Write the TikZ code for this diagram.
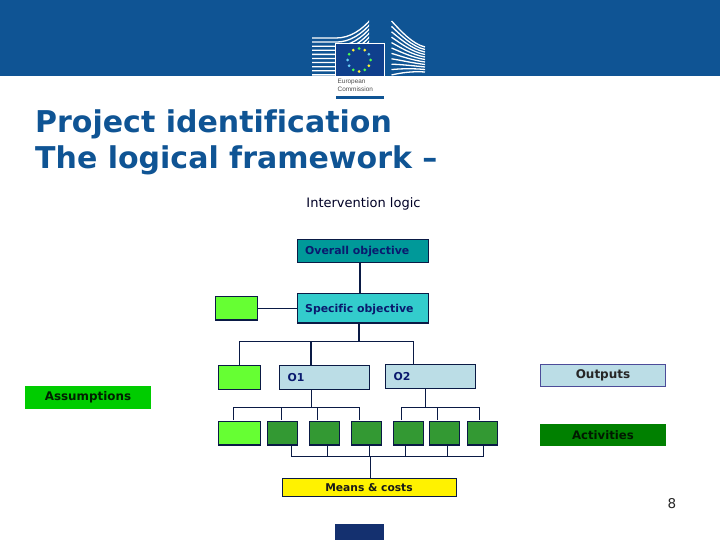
\documentclass[tikz,border=0pt]{standalone}
\usepackage{fontspec}
\setmainfont[Ligatures=NoCommon]{DejaVu Sans}
\newfontfamily\liberation{Liberation Sans}
\usetikzlibrary{calc}
\definecolor{ecblue}{HTML}{0F5494}
\definecolor{boxline}{HTML}{0A1A45}
\definecolor{boxtext}{HTML}{0A1A6E}
\definecolor{tealbox}{HTML}{009999}
\definecolor{cyanbox}{HTML}{33CCCC}
\definecolor{limebox}{HTML}{66FF33}
\definecolor{palebox}{HTML}{BBDDE6}
\definecolor{darkbox}{HTML}{339933}
\definecolor{barblue}{HTML}{14306F}
\definecolor{flagblue}{HTML}{0F3F8C}
\definecolor{assumefill}{HTML}{00CC00}
\definecolor{activityfill}{HTML}{008000}
\tikzset{
  x=1pt,y=-1pt,
  flowbox/.style={draw=boxline,line width=1.1pt,inner sep=0pt,outer sep=0pt,anchor=north west},
  objlabel/.style={font=\bfseries\fontsize{10.9}{12}\selectfont,text=boxtext,anchor=west,inner sep=0pt},
  legendbox/.style={inner sep=0pt,outer sep=0pt,anchor=north west},
  legendtext/.style={anchor=center,inner sep=0pt},
  link/.style={draw=boxline,line width=1.1pt},
  titletext/.style={font=\bfseries\fontsize{30}{36}\selectfont,text=ecblue,anchor=west,inner sep=0pt},
  stripe/.style={draw=white,line width=1.3pt},
}
\begin{document}
\begin{tikzpicture}
\useasboundingbox (0,0) rectangle (720,540);
\fill[white] (0,0) rectangle (720,540);
% header band
\fill[ecblue] (0,0) rectangle (720,76);
% logo: left wing
\begin{scope}
\clip (312,36) .. controls (340,36) and (358,34) .. (369,20) -- (369,76) -- (312,76) -- cycle;
\foreach \k in {0,...,9}{
  \draw[stripe] (312,38+4.1*\k) -- (336,38+4.1*\k) .. controls (350,38+4.1*\k) and (362,30+4*\k) .. (372,18+4*\k);
}
\end{scope}
% logo: right wing
\foreach \k in {0,...,10}{
  \draw[stripe] (391.5,21+5.4*\k) .. controls (400,30+4.3*\k) and (412,44+2.7*\k) .. (425,47+2.5*\k);
}
% flag
\fill[white] (335,43) rectangle (385,76);
\fill[white] (335,76) rectangle (385,100);
\fill[flagblue] (336,44) rectangle (384,76);
\foreach \a/\c in {0/green!70!white,30/yellow!80!white,60/green!70!white,90/yellow!80!white,120/green!70!white,150/cyan!60!white,180/cyan!60!white,210/green!70!white,240/yellow!80!white,270/green!70!white,300/yellow!80!white,330/cyan!60!white}{
  \fill[\c] ($(359,60)+(\a:11.5)$) circle (1.5);
}
\node[font=\liberation\fontsize{6.4}{8.6}\selectfont,text=black!70,align=left,anchor=north west,inner sep=0pt] (logotext) at (337.5,78.5) {European\\Commission};
\fill[ecblue] (336,96) rectangle (384,98.6);
% title
\node[titletext] (titleone) at (35,124.5) {Project identification};
\node[titletext] (titletwo) at (35,160.5) {The logical framework –};
\node[font=\fontsize{13}{14}\selectfont,anchor=center,text=black!85!blue,inner sep=0pt] (intervention) at (363.5,203.5) {Intervention logic};
% boxes
\node[flowbox,fill=tealbox,minimum width=131pt,minimum height=23pt] (overall) at (297.5,239.5) {};
\node[objlabel] (overalltext) at (305,251.5) {Overall objective};
\node[flowbox,fill=cyanbox,minimum width=131pt,minimum height=29.5pt] (specific) at (297.5,293.5) {};
\node[objlabel] (specifictext) at (305,309.5) {Specific objective};
\node[flowbox,fill=limebox,minimum width=42pt,minimum height=23.5pt] (gone) at (215.5,296.5) {};
\node[flowbox,fill=limebox,minimum width=42pt,minimum height=24pt] (gtwo) at (218.5,365.5) {};
\node[flowbox,fill=palebox,minimum width=90pt,minimum height=24pt] (oone) at (279.5,365.5) {};
\node[objlabel] (oonetext) at (287.5,378) {O1};
\node[flowbox,fill=palebox,minimum width=90pt,minimum height=24pt] (otwo) at (385.5,364.5) {};
\node[objlabel] (otwotext) at (393.5,376.5) {O2};
% activity row
\node[flowbox,fill=limebox,minimum width=42pt,minimum height=23.5pt] (gthree) at (218.5,421.5) {};
\foreach \n/\x in {aa/267.5,ab/309.5,ac/351.5,ad/393.5,ae/429.5,af/467.5}{
  \node[flowbox,fill=darkbox,minimum width=30pt,minimum height=23.5pt] (\n) at (\x,421.5) {};
}
\node[flowbox,fill=yellow,minimum width=174pt,minimum height=18pt] (means) at (282.5,478.5) {};
\node[legendtext,font=\bfseries\fontsize{10.7}{12}\selectfont,text=black!90] (meanstext) at (369,488) {Means \& costs};
% legend
\node[legendbox,draw=black!25!blue!40!gray,line width=1pt,fill=palebox,minimum width=125pt,minimum height=22pt] (outputs) at (540.5,364.5) {};
\node[legendtext,font=\bfseries\fontsize{12}{14}\selectfont,text=black!85] (outputstext) at (603,375.5) {Outputs};
\node[legendbox,fill=activityfill,minimum width=126pt,minimum height=22pt] (activities) at (540,424) {};
\node[legendtext,font=\bfseries\fontsize{11.7}{14}\selectfont,text=black!75!green!40!black] (activitiestext) at (603,435.5) {Activities};
\node[legendbox,fill=assumefill,minimum width=126pt,minimum height=23pt] (assumptions) at (25,386) {};
\node[legendtext,font=\bfseries\fontsize{11.9}{14}\selectfont,text=black!80!green!60!black] (assumptionstext) at (88,397.5) {Assumptions};
% junctions
\coordinate (jtop) at (359,341.5);
\coordinate (jo) at (311.5,407.5);
\coordinate (jp) at (425.5,407.5);
\coordinate (jm) at (370.5,456.5);
% connectors
\draw[link] (overall.south -| 360,0) -- (specific.north -| 360,0);
\draw[link] (gone.east) -- (specific.west |- gone.east);
\draw[link] (specific.south -| jtop) -- (jtop);
\draw[link] (gtwo.north -| 239.5,0) -- (jtop -| 239.5,0) -- (jtop -| 413.5,0) -- (otwo.north -| 413.5,0);
\draw[link] (jtop -| 311,0) -- (oone.north -| 311,0);
\draw[link] (oone.south -| jo) -- (jo);
\draw[link] (otwo.south -| jp) -- (jp);
\draw[link] (233.5,420) -- (jo -| 233.5,0) -- (jo -| 359.5,0) -- (359.5,420);
\draw[link] (jo -| 281.5,0) -- (281.5,420);
\draw[link] (jo -| 317.5,0) -- (317.5,420);
\draw[link] (401.5,420) -- (jp -| 401.5,0) -- (jp -| 479.5,0) -- (479.5,420);
\draw[link] (jp -| 437.5,0) -- (437.5,420);
\draw[link] (aa.south -| 291.5,0) -- (jm -| 291.5,0) -- (jm -| 483.5,0) -- (af.south -| 483.5,0);
\draw[link] (ab.south -| 327.5,0) -- (jm -| 327.5,0);
\draw[link] (ac.south -| 369.5,0) -- (jm -| 369.5,0);
\draw[link] (ad.south -| 405.5,0) -- (jm -| 405.5,0);
\draw[link] (ae.south -| 447.5,0) -- (jm -| 447.5,0);
\draw[link] (jm) -- (means.north -| jm);
% footer
\fill[barblue] (335,524) rectangle (384,540);
\node[font=\fontsize{13.5}{15}\selectfont,text=black!85,anchor=center,inner sep=0pt] (pagenum) at (672,504) {8};
\end{tikzpicture}
\end{document}
